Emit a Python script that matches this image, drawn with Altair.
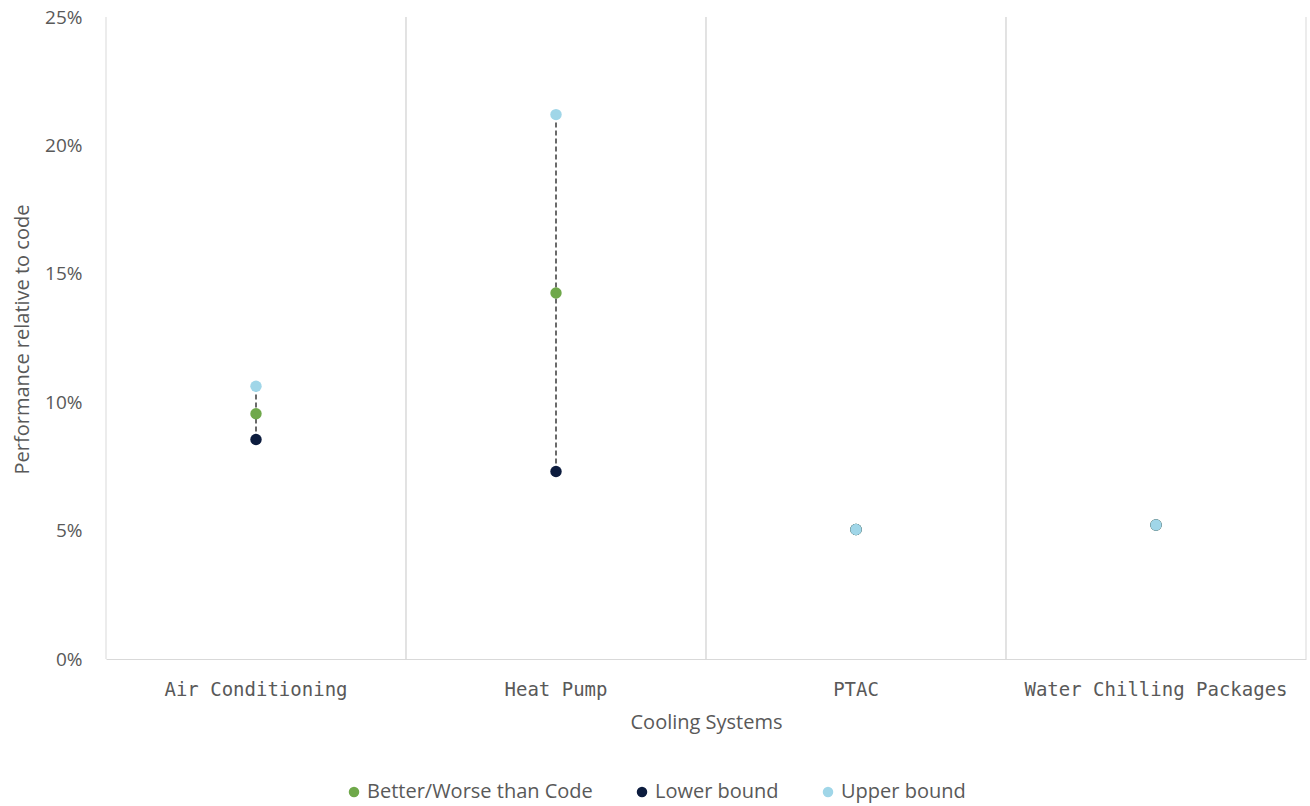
import altair as alt
import pandas as pd

# Cooling system categories and performance relative to code (%)
systems = ["Air Conditioning", "Heat Pump", "PTAC", "Water Chilling Packages"]
better_worse = [9.55, 14.25, 5.04, 5.22]
lower_bound = [8.55, 7.30, 5.04, 5.22]
upper_bound = [10.62, 21.2, 5.04, 5.22]

series_names = ["Better/Worse than Code", "Lower bound", "Upper bound"]
series_colors = ["#6FA84A", "#0C1C3E", "#A0D6E8"]

ranges = pd.DataFrame({"system": systems, "low": lower_bound, "high": upper_bound})

rows = []
for name, vals in zip(series_names, [better_worse, lower_bound, upper_bound]):
    for s, v in zip(systems, vals):
        rows.append({"system": s, "series": name, "value": v, "order": series_names.index(name)})
points = pd.DataFrame(rows)

font = "Open Sans"
grey = "#595959"
line_grey = "#D9D9D9"

x_scale = alt.Scale(domain=systems, paddingInner=0, paddingOuter=0)
y_scale = alt.Scale(domain=[0, 25], nice=False, zero=True)

x_axis = alt.Axis(
    title="Cooling Systems",
    titleFont=font,
    titleFontSize=20,
    titleFontWeight="normal",
    titleColor=grey,
    titleX=600,
    titleY=63,
    titleBaseline="middle",
    labelFont="DejaVu Sans Mono",
    labelFontSize=19,
    labelColor=grey,
    labelAngle=0,
    labelPadding=21,
    labelLimit=0,
    ticks=False,
    grid=False,
    domainColor=line_grey,
    domainWidth=1,
)

y_axis = alt.Axis(
    title="Performance relative to code",
    titleFont=font,
    titleFontSize=20,
    titleFontWeight="normal",
    titleColor=grey,
    titleX=-84,
    titleY=322,
    titleBaseline="middle",
    titleAngle=270,
    labelFont=font,
    labelFontSize=19,
    labelColor=grey,
    labelPadding=24,
    labelExpr="datum.value + '%'",
    values=[0, 5, 10, 15, 20, 25],
    ticks=False,
    domain=False,
    grid=False,
)

# category separators at both edges of every band
sep_left = alt.Chart(ranges).mark_rule(color=line_grey, strokeWidth=1).encode(
    x=alt.X("system:N", scale=x_scale, bandPosition=0, axis=x_axis),
    y=alt.datum(0, scale=y_scale, axis=y_axis),
    y2=alt.datum(25),
)
sep_right = alt.Chart(ranges).mark_rule(color=line_grey, strokeWidth=1).encode(
    x=alt.X("system:N", scale=x_scale, bandPosition=1),
    y=alt.datum(0, scale=y_scale),
    y2=alt.datum(25),
)

whiskers = alt.Chart(ranges).mark_rule(
    color="#3A3A3A", strokeWidth=1.5, strokeDash=[5, 3]
).encode(
    x=alt.X("system:N", scale=x_scale),
    y=alt.Y("low:Q", scale=y_scale),
    y2="high:Q",
)

dots = alt.Chart(points).mark_circle(size=130, opacity=1).encode(
    x=alt.X("system:N", scale=x_scale),
    y=alt.Y("value:Q", scale=y_scale),
    color=alt.Color(
        "series:N",
        scale=alt.Scale(domain=series_names, range=series_colors),
        legend=alt.Legend(
            title=None,
            orient="none",
            direction="horizontal",
            legendX=238,
            legendY=765,
            symbolType="circle",
            symbolSize=110,
            labelFont=font,
            labelFontSize=20,
            labelColor=grey,
            labelLimit=0,
            columnPadding=39,
            labelOffset=3,
        ),
    ),
    order=alt.Order("order:Q"),
)

chart = alt.layer(sep_left, sep_right, whiskers, dots).properties(
    width=1200,
    height=642,
    background="white",
    autosize=alt.AutoSizeParams(type="none"),
    padding={"left": 106, "top": 17, "right": 4, "bottom": 147},
).configure_view(stroke=None)

chart.save("out.html", embed_options={"renderer": "svg", "actions": False})
